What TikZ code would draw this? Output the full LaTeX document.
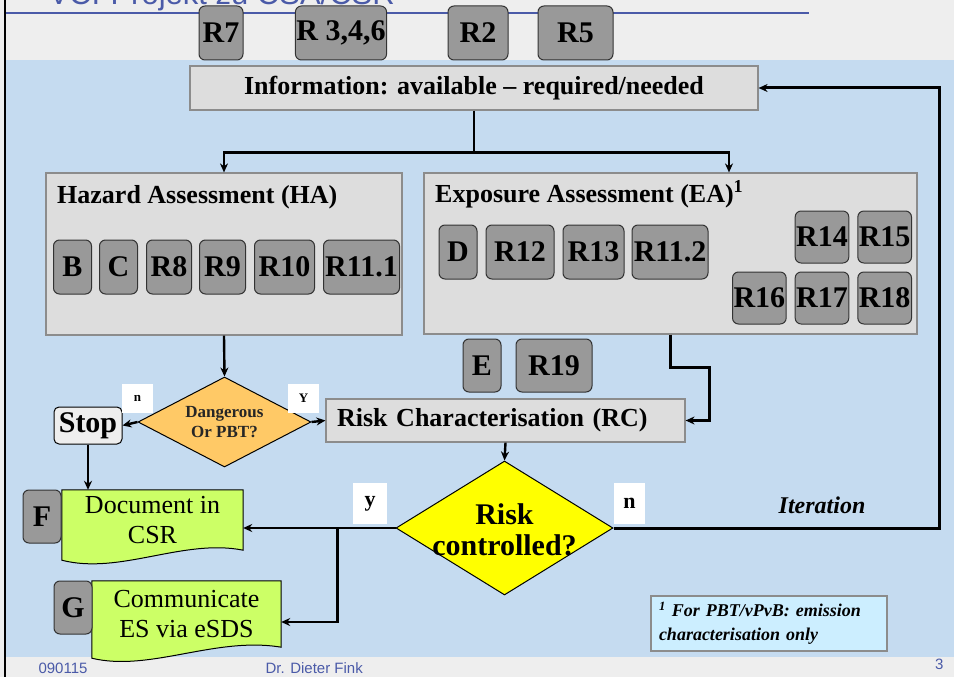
\documentclass[tikz,border=0pt]{standalone}
\usepackage{fontspec}
\setmainfont{Liberation Serif}
\newfontfamily\slidefont{Liberation Sans}
\usetikzlibrary{arrows.meta, positioning, shapes.geometric, calc}
\pgfdeclarelayer{background}
\pgfsetlayers{background,main}
\definecolor{slideblue}{HTML}{C5DBF0}
\definecolor{slidegray}{HTML}{EEEEEE}
\definecolor{boxgray}{HTML}{DDDDDD}
\definecolor{badgegray}{HTML}{999999}
\definecolor{titleblue}{HTML}{4A5AA8}
\definecolor{docgreen}{HTML}{CCFF66}
\definecolor{dangorange}{HTML}{FFC966}
\definecolor{riskyellow}{HTML}{FFFF00}
\definecolor{notecyan}{HTML}{CCEEFF}

\begin{document}
\begin{tikzpicture}[
  x=1pt, y=-1pt,
  every node/.style={align=center},
  flow/.style={-{Stealth[length=9pt,width=8pt]}, line width=2.4pt, draw=black},
  bigfont/.style={font=\bfseries\fontsize{26}{30}\selectfont},
  infobox/.style={bigfont, draw=black!45, line width=1.2pt, fill=boxgray, inner sep=0pt},
  badge/.style={
    draw=black!80,
    fill=badgegray,
    rounded corners=6pt,
    line width=1pt,
    font=\bfseries\fontsize{30}{30}\selectfont,
    inner xsep=1pt,
    inner ysep=0pt,
    minimum width=38pt,
    minimum height=54pt
  },
  docnode/.style={font=\fontsize{26}{30}\selectfont, inner sep=0pt},
  docshape/.style={draw=black, line width=1pt, fill=docgreen},
  answer/.style={fill=white, inner sep=0pt, font=\bfseries\fontsize{22}{22}\selectfont},
  footer/.style={font=\slidefont\fontsize{15}{15}\selectfont, text=titleblue, anchor=base west}
]
\useasboundingbox (0,0) rectangle (954,677);

\begin{pgfonlayer}{background}
\fill[slidegray] (0,0) rectangle (954,677);
\fill[slideblue] (6,60) rectangle (954,657);
\draw[titleblue, line width=2pt] (5,13) -- (809,13);
\draw[black, line width=2pt] (5,0) -- (5,677);
\end{pgfonlayer}

\node[anchor=base west, font=\slidefont\fontsize{31}{31}\selectfont, text=titleblue] (title) at (45,5) {VCI-Projekt zu CSA/CSR};

\node[badge, minimum width=44pt] (r7) at (221,33) {R7};
\node[badge, minimum width=90pt] (r346) at (341,33) {R 3,4,6};
\node[badge, minimum width=60pt] (r2) at (478,33) {R2};
\node[badge, minimum width=75pt] (r5) at (575.5,33) {R5};

\node[infobox, minimum width=568pt, minimum height=44pt] (info) at (474,88) {Information: available -- required/needed};

\node[infobox, minimum width=356pt, minimum height=162pt] (ha) at (224,254) {};
\node[bigfont, anchor=base west, inner sep=0pt] (hatitle) at (57,203) {Hazard Assessment (HA)};
\node[badge] (b) at (72.5,267) {B};
\node[badge, right=7pt of b] (c) {C};
\node[badge, minimum width=45pt, right=8pt of c] (r8) {R8};
\node[badge, minimum width=46pt, right=7pt of r8] (r9) {R9};
\node[badge, minimum width=60pt, right=8pt of r9] (r10) {R10};
\node[badge, minimum width=76pt, right=8pt of r10] (r111) {R11.1};

\node[infobox, minimum width=493pt, minimum height=161pt] (ea) at (670.5,253.5) {};
\node[bigfont, anchor=base west, inner sep=0pt] (eatitle) at (435,202) {Exposure Assessment (EA)\textsuperscript{1}};
\node[badge] (d) at (458,252) {D};
\node[badge, minimum width=68pt, right=8pt of d] (r12) {R12};
\node[badge, minimum width=61pt, right=8pt of r12] (r13) {R13};
\node[badge, minimum width=76pt, right=7pt of r13] (r112) {R11.2};
\node[badge, minimum width=52pt, minimum height=52pt] (r14) at (822,237) {R14};
\node[badge, minimum width=53pt, minimum height=52pt, right=8pt of r14] (r15) {R15};
\node[badge, minimum width=52pt, minimum height=52pt, below=8pt of r14] (r17) {R17};
\node[badge, minimum width=53pt, minimum height=52pt, left=8pt of r17] (r16) {R16};
\node[badge, minimum width=53pt, minimum height=52pt, right=8pt of r17] (r18) {R18};

\node[badge, minimum height=53pt] (e) at (482,365.5) {E};
\node[badge, minimum width=76pt, minimum height=53pt, right=14pt of e] (r19) {R19};

\node[diamond, draw=black, line width=1pt, fill=dangorange, inner sep=0pt, aspect=1.9,
  minimum width=173pt, minimum height=90pt,
  label={[font=\bfseries\fontsize{17}{20}\selectfont, text=black!85, align=center]center:Dangerous\\Or PBT?}] (dang) at (224.5,422) {};
\node[draw=black, line width=1pt, fill=slidegray, rounded corners=5pt, inner sep=0pt,
  minimum width=68pt, minimum height=37pt, font=\bfseries\fontsize{30}{30}\selectfont] (stop) at (88,425.5) {Stop};
\node[answer, minimum width=31pt, minimum height=29pt, font=\bfseries\fontsize{13}{13}\selectfont] (dangno) at (137.5,398.5) {n};
\node[answer, minimum width=31pt, minimum height=29pt, font=\bfseries\fontsize{13}{13}\selectfont] (dangyes) at (303.5,398.5) {Y};

\node[infobox, text width=337pt, align=left, inner xsep=11pt, minimum height=43pt] (rc) at (505.5,420.5) {Risk Characterisation (RC)};

\node[diamond, draw=black, line width=1pt, fill=riskyellow, inner sep=0pt, aspect=1.62,
  minimum width=217pt, minimum height=134pt,
  label={[font=\bfseries\fontsize{30}{31}\selectfont, align=center, yshift=-2pt]center:Risk\\controlled?}] (risk) at (504.5,528) {};
\node[answer, minimum width=34pt, minimum height=41pt] (riskyes) at (370,503.5) {y};
\node[answer, minimum width=31pt, minimum height=41pt] (riskno) at (629.5,503.5) {n};
\node[font=\bfseries\itshape\fontsize{24}{24}\selectfont] (iter) at (822,505) {Iteration};

\node[docnode, minimum width=181pt, minimum height=60pt] (doc) at (152.5,520) {Document in\\CSR};
\node[docnode, minimum width=189pt, minimum height=66pt] (comm) at (186.5,614) {Communicate\\ES via eSDS};
\node[badge, minimum height=53pt] (f) at (42,516.5) {F};
\node[badge, minimum height=53pt] (g) at (73,607.5) {G};

\begin{pgfonlayer}{background}
\draw[docshape] (doc.north west) -- (doc.north east) -- (doc.south east)
  .. controls +(-60,-12) and +(58,15) .. ([yshift=-10pt]doc.south west) -- cycle;
\draw[docshape] (comm.north west) -- (comm.north east) -- (comm.south east)
  .. controls +(-66,-11) and +(58,14) .. ([yshift=-11pt]comm.south west) -- cycle;
\end{pgfonlayer}

\node[draw=black!45, line width=1.2pt, fill=notecyan, inner xsep=8pt, inner ysep=0pt,
  minimum height=55pt, text width=220pt, align=left,
  font=\bfseries\itshape\fontsize{18}{24}\selectfont] (note) at (769,623.5)
  {\textsuperscript{1} For PBT/vPvB: emission\\characterisation only};

\node[footer] (date) at (35,673) {090115};
\node[footer] (author) at (262,673) {Dr. Dieter Fink};
\node[footer, anchor=base east] (page) at (947,669) {3};

\draw[line width=2.4pt] (info.south) -- ++(0,42) coordinate (split);
\draw[flow] (split) -| (ha.north);
\draw[flow] (split) -| ([xshift=58.5pt]ea.north);
\draw[flow] (ha.south) -- (dang.north);
\draw[flow] (dang.west) -- (stop.east);
\draw[flow] (dang.east) -- (rc.west);
\draw[flow] (ea.south) -- ++(0,33) -| ([xshift=24pt]rc.east) -- (rc.east);
\draw[flow] (rc.south) -- (risk.north);
\draw[flow] (stop.south) -- (stop.south |- doc.north);
\draw[flow] (risk.west) -- (risk.west -| doc.east);
\coordinate (ybranch) at ([xshift=-58pt]risk.west);
\draw[flow] (ybranch) |- ([yshift=-8pt]comm.east);
\draw[flow, line width=3pt] (risk.east) -- ++(326,0) |- (info.east);

\end{tikzpicture}
\end{document}
